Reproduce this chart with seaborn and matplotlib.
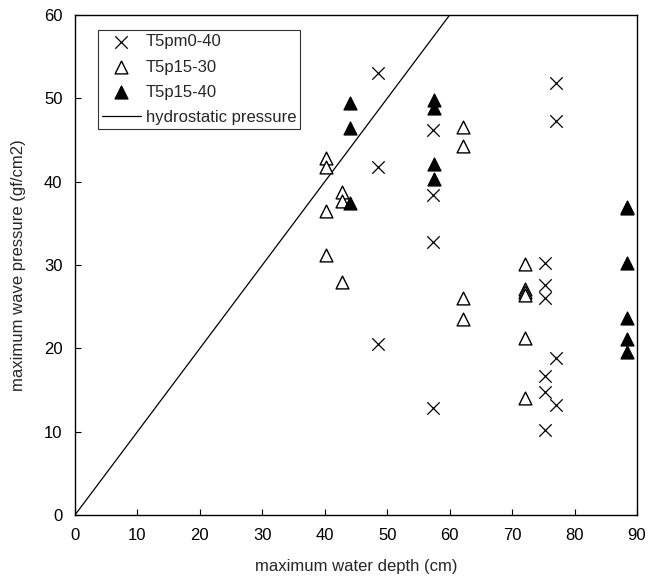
import matplotlib
matplotlib.use("Agg")
import matplotlib.pyplot as plt
import seaborn as sns
import pandas as pd

# T5pm0-40 (crosses)
pm040_x = [48.5, 48.5, 48.5, 57.3, 57.3, 57.3, 57.3, 77.1, 77.1, 75.3, 75.3, 75.3, 77.1, 75.3, 75.3, 77.1, 75.3]
pm040_y = [53.0, 41.8, 20.5, 46.2, 38.4, 32.7, 12.9, 51.8, 47.3, 30.3, 27.6, 26.0, 18.8, 16.7, 14.8, 13.2, 10.2]

# T5p15-30 (open triangles)
p1530_x = [40.2, 40.2, 40.2, 40.2, 42.8, 42.8, 42.8, 62.2, 62.2, 62.2, 62.2, 72.1, 72.1, 72.1, 72.1, 72.1, 72.1]
p1530_y = [42.8, 41.8, 36.5, 31.2, 38.8, 37.7, 28.0, 46.6, 44.3, 26.1, 23.5, 30.1, 27.1, 26.8, 26.4, 21.3, 14.0]

# T5p15-40 (filled triangles)
p1540_x = [44.0, 44.0, 44.0, 57.5, 57.5, 57.5, 57.5, 88.4, 88.4, 88.4, 88.4, 88.4, 88.4]
p1540_y = [49.4, 46.5, 37.4, 49.8, 48.8, 42.1, 40.3, 37.0, 36.8, 30.2, 23.6, 21.1, 19.6]

# hydrostatic pressure line
hydro_x = [0, 60]
hydro_y = [0, 60]

x_ticks = [0, 10, 20, 30, 40, 50, 60, 70, 80, 90]
y_ticks = [0, 10, 20, 30, 40, 50, 60]

sns.set_style("ticks")
plt.rcParams['font.family'] = ['Liberation Sans', 'DejaVu Sans']

fig = plt.figure(figsize=(6.51, 5.85), dpi=100)
ax = fig.add_axes([75/651, 70/585, 562/651, 500/585])

df_hydro = pd.DataFrame({"x": hydro_x, "y": hydro_y})
sns.lineplot(data=df_hydro, x="x", y="y", ax=ax, color="black", lw=0.9,
             label="hydrostatic pressure", zorder=2)

sns.scatterplot(x=pm040_x, y=pm040_y, ax=ax, marker="x", s=80, color="black",
                linewidth=0.9, label="T5pm0-40", zorder=3)
sns.scatterplot(x=p1530_x, y=p1530_y, ax=ax, marker="^", s=85, facecolor="white",
                edgecolor="black", linewidth=1.0, label="T5p15-30", zorder=3)
sns.scatterplot(x=p1540_x, y=p1540_y, ax=ax, marker="^", s=85, color="black",
                edgecolor="black", linewidth=1.0, label="T5p15-40", zorder=3)

ax.set_xlim(0, 90)
ax.set_ylim(0, 60)
ax.set_xticks(x_ticks)
ax.set_yticks(y_ticks)
ax.tick_params(direction="in", length=4, width=0.8, labelsize=12, pad=9, colors="black")
for s in ax.spines.values():
    s.set_color("black")
    s.set_linewidth(1.0)

ax.set_xlabel("maximum water depth (cm)", fontsize=12, labelpad=12)
ax.set_ylabel("maximum wave pressure (gf/cm2)", fontsize=12, labelpad=13)

handles, labels = ax.get_legend_handles_labels()
order = ["T5pm0-40", "T5p15-30", "T5p15-40", "hydrostatic pressure"]
hmap = dict(zip(labels, handles))
leg = ax.legend([hmap[k] for k in order], order, loc="upper left",
                bbox_to_anchor=(0.041, 0.97), frameon=True, fancybox=False,
                edgecolor="black", fontsize=12, handlelength=2.3,
                borderpad=0.25, labelspacing=0.62, handletextpad=0.3,
                borderaxespad=0.0)
leg.get_frame().set_linewidth(0.8)

fig.savefig("out.png", dpi=100)
